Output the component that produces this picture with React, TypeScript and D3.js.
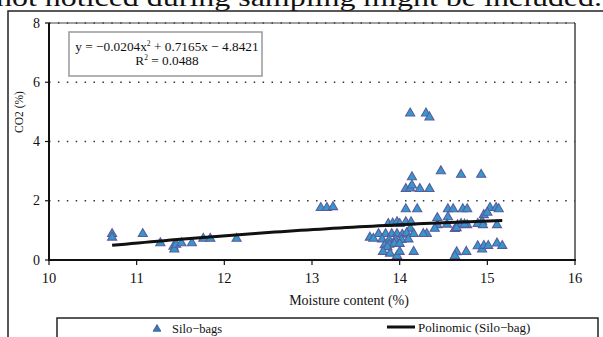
import React from "react";
import * as d3 from "d3";

const moisture = [
  10.72, 10.72, 11.07, 11.27, 11.42, 11.43, 11.45, 11.51, 11.63, 11.76, 11.84, 12.14,
  13.10, 13.17, 13.24,
  14.12, 14.30, 14.34, 14.47, 14.70, 14.93, 14.14, 14.07, 14.12, 14.14, 14.23, 14.34,
  14.07, 14.20, 14.55, 14.61, 14.72, 14.77, 15.03, 15.10, 15.13,
  14.96, 15.00, 14.43, 14.55, 14.94,
  13.87, 13.92, 13.97, 14.07, 14.13, 14.00, 14.43, 14.54, 14.66, 14.77, 14.89, 14.95, 15.11, 14.70, 14.74,
  14.12, 14.40, 14.63, 14.65,
  14.31, 13.76, 13.84, 13.91, 13.97, 14.03, 14.08, 14.16, 14.27,
  13.66, 13.70, 13.80, 13.88, 13.95, 14.02, 14.10,
  13.83, 13.88, 13.94, 14.00, 13.86,
  13.81, 13.89, 13.97, 14.00, 14.16,
  14.65, 14.63, 14.76, 14.89, 14.94, 14.96, 15.01, 15.11, 15.17,
];
const co2 = [
  0.88, 0.76, 0.88, 0.57, 0.45, 0.36, 0.52, 0.57, 0.57, 0.72, 0.72, 0.72,
  1.76, 1.76, 1.79,
  4.95, 4.95, 4.82, 3.0, 2.88, 2.88, 2.8, 2.4, 2.42, 2.52, 2.4, 2.4,
  1.72, 1.72, 1.72, 1.72, 1.72, 1.72, 1.76, 1.76, 1.72,
  1.52, 1.6, 1.42, 1.45, 1.3,
  1.22, 1.24, 1.28, 1.28, 1.28, 1.22, 1.18, 1.2, 1.18, 1.18, 1.22, 1.18, 1.18, 1.22, 1.2,
  1.06, 1.06, 1.05, 1.08,
  0.88, 0.88, 0.88, 0.88, 0.88, 0.86, 0.91, 0.88, 0.88,
  0.76, 0.72, 0.7, 0.68, 0.68, 0.68, 0.7,
  0.5, 0.52, 0.55, 0.55, 0.44,
  0.28, 0.22, 0.14, 0.28, 0.28,
  0.27, 0.14, 0.28, 0.47, 0.36, 0.48, 0.48, 0.56, 0.48,
];
// trendline coefficients shown in the chart: y = a x^2 + b x + c
const trendCoef = [-0.0204, 0.7165, -4.8421];
const xTicks = [10, 11, 12, 13, 14, 15, 16];
const yTicks = [0, 2, 4, 6, 8];
const gridTicks = [2, 4, 6, 8];

const FONT = "'Liberation Serif', 'DejaVu Serif', serif";

export default function App() {
  const x = d3.scaleLinear().domain([10, 16]).range([49, 575]);
  const y = d3.scaleLinear().domain([0, 8]).range([260, 23]);

  const xmin = d3.min(moisture) as number;
  const xmax = d3.max(moisture) as number;
  const trendXs = d3.range(0, 61).map((i) => xmin + ((xmax - xmin) * i) / 60);
  const trend = (v: number) => trendCoef[0] * v * v + trendCoef[1] * v + trendCoef[2];
  const line = d3
    .line<number>()
    .x((v) => x(v))
    .y((v) => y(trend(v)));

  const tri = d3.symbol().type(d3.symbolTriangle).size(36)();
  const triLegend = d3.symbol().type(d3.symbolTriangle).size(26)();

  const points = moisture.map((m, i) => ({ m, c: co2[i] }));

  return (
    <svg
      width={603}
      height={337}
      style={{ position: "absolute", left: 0, top: 0, background: "#fff" }}
      fontFamily={FONT}
    >
      {/* page text above the figure */}
      <text
        x={-4}
        y={6}
        fontSize={26}
        textLength={606}
        lengthAdjust="spacingAndGlyphs"
        fill="#111"
      >
        not noticed during sampling might be included.
      </text>

      {/* outer figure frame */}
      <rect x={8} y={11} width={620} height={340} fill="none" stroke="#222" strokeWidth={1.5} />

      {/* grid lines */}
      {gridTicks.map((t) => (
        <line
          key={t}
          x1={x(10)}
          x2={x(16)}
          y1={y(t)}
          y2={y(t)}
          stroke="#333"
          strokeWidth={1.6}
          strokeDasharray="1.5 7.4"
        />
      ))}
      {/* plot border top/right */}
      <line x1={x(10)} x2={x(16)} y1={y(8)} y2={y(8)} stroke="#444" strokeWidth={1} />
      <line x1={x(16)} x2={x(16)} y1={y(8)} y2={y(0)} stroke="#444" strokeWidth={1.5} />

      {/* equation box */}
      <rect x={69} y={32} width={193} height={44} fill="#fff" stroke="#999" strokeWidth={1.5} />
      <text x={167} y={51} fontSize={13.3} textAnchor="middle" fill="#111">
        y = −0.0204x<tspan dy={-5} fontSize={7.5}>2</tspan>
        <tspan dy={5}> + 0.7165x − 4.8421</tspan>
      </text>
      <text x={167} y={65} fontSize={13.3} textAnchor="middle" fill="#111">
        R<tspan dy={-5} fontSize={7.5}>2</tspan>
        <tspan dy={5}> = 0.0488</tspan>
      </text>

      {/* points */}
      {points.map((p, i) => (
        <path
          key={i}
          d={tri as string}
          transform={`translate(${x(p.m)},${y(p.c)})`}
          fill="#3399CC"
          stroke="#5C5A9C"
          strokeWidth={1.1}
        />
      ))}

      {/* trend line */}
      <path d={line(trendXs) as string} fill="none" stroke="#111" strokeWidth={3} />

      {/* axes */}
      <line x1={x(10)} x2={x(10)} y1={y(8)} y2={y(0) + 1} stroke="#111" strokeWidth={2} />
      <line x1={x(10) - 1} x2={x(16) + 1} y1={y(0)} y2={y(0)} stroke="#111" strokeWidth={2} />
      {yTicks.map((t) => (
        <g key={t}>
          <line x1={x(10) - 4} x2={x(10)} y1={y(t)} y2={y(t)} stroke="#111" strokeWidth={1.2} />
          <text x={40} y={y(t) + 4.5} fontSize={14} textAnchor="end" fill="#111">
            {t}
          </text>
        </g>
      ))}
      {xTicks.map((t) => (
        <g key={t}>
          <line x1={x(t)} x2={x(t)} y1={y(0)} y2={y(0) + 5} stroke="#111" strokeWidth={1.2} />
          <text x={x(t)} y={283} fontSize={14.5} textAnchor="middle" fill="#111">
            {t}
          </text>
        </g>
      ))}

      {/* axis titles */}
      <text x={349} y={305} fontSize={14} textAnchor="middle" fill="#111">
        Moisture content (%)
      </text>
      <text
        transform="translate(23,112) rotate(-90)"
        fontSize={11.5}
        textAnchor="middle"
        fill="#111"
      >
        CO2 (%)
      </text>

      {/* legend */}
      <rect x={57} y={318} width={541} height={40} fill="#fff" stroke="#222" strokeWidth={1.5} />
      <path d={triLegend as string} transform="translate(157,329)" fill="#2F7FB8" stroke="#4A4A8A" strokeWidth={0.8} />
      <text x={172} y={333} fontSize={12.5} fill="#111">
        Silo−bags
      </text>
      <line x1={387} x2={415} y1={327} y2={327} stroke="#111" strokeWidth={3} />
      <text x={418} y={332} fontSize={13} fill="#111">
        Polinomic (Silo−bag)
      </text>
    </svg>
  );
}
